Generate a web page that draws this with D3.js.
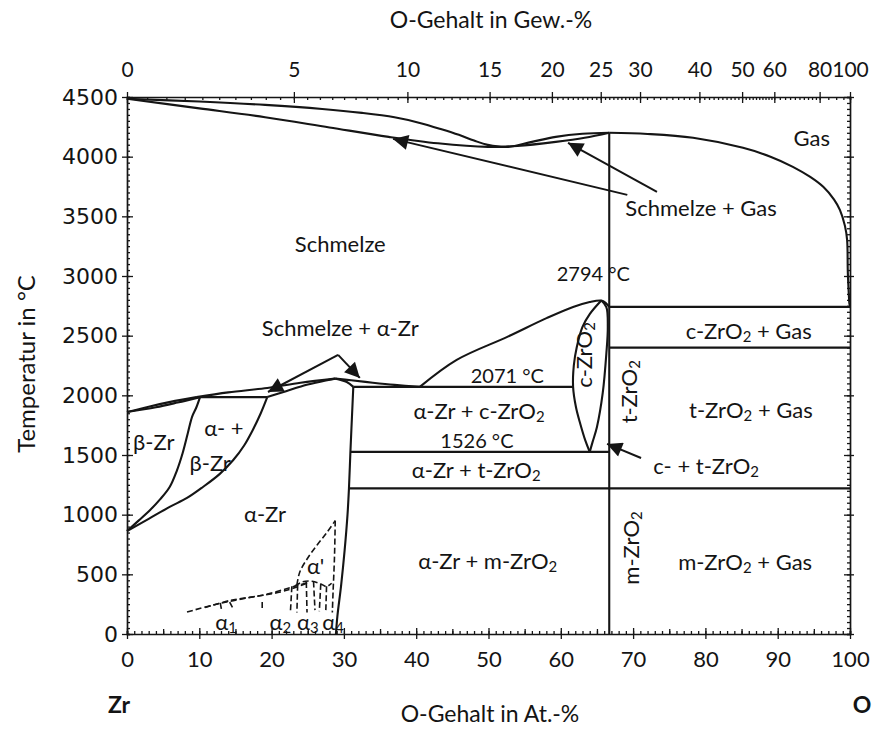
<!DOCTYPE html>
<html><head><meta charset="utf-8">
<script src="https://cdn.jsdelivr.net/npm/d3@7"></script>
<style>
html,body{margin:0;padding:0;background:#fff;}
svg{display:block;}
.lbl{font-family:Lato,"Open Sans",sans-serif;fill:#141414;}
</style></head><body>
<svg id="chart" width="888" height="729"></svg>
<script>
// ---- Axis ticks ----
const atTicks = [0,10,20,30,40,50,60,70,80,90,100];
const tempTicks = [0,500,1000,1500,2000,2500,3000,3500,4000,4500];
const wtTicks = [0,5,10,15,20,25,30,40,50,60,80,100];

// ---- Phase boundaries: [O in At.-%, temperature in °C] ----
const dewLineZr = [[0,4485],[10,4462],[19.1,4434],[27,4400],[32.5,4367],[37,4330],[40.5,4283],[43.5,4230],[45.9,4183],[48,4135],[49.9,4099],[52.7,4082],[56,4124],[59.3,4166],[63,4192],[66.7,4200]];
const boilLineZr = [[0,4485],[10,4405],[19.1,4331],[28,4245],[36.2,4166],[43,4112],[49.9,4082],[54,4090],[59.3,4124],[63.3,4158],[66.7,4200]];
const gasLineO = [[66.7,4200],[72,4190],[78.3,4158],[85.2,4074],[89,4000],[92.1,3915],[94.5,3830],[96.3,3747],[97.8,3640],[98.6,3554],[99.3,3420],[99.6,3303],[99.7,3026],[99.9,2775]];
const zro2Line = [[66.7,4200],[66.7,0]];

const betaLiquidus = [[0,1860],[3,1905],[6,1945],[9.6,1985]];
const betaSolidus = [[0,1860],[4,1900],[7,1940],[10.1,1985]];
const peritectic = [[9.6,1985],[19.4,1985]];
const betaTransus = [[10.1,1985],[9.6,1900],[9.0,1820],[8.4,1680],[7.7,1517],[6.9,1370],[5.9,1232],[4.6,1130],[3.2,1039],[1.6,950],[0,863]];
const alphaTransus = [[19.4,1985],[18.5,1850],[17.4,1710],[16.2,1580],[14.7,1458],[12.8,1340],[10.5,1232],[8.3,1140],[5.9,1065],[3.0,965],[0,863]];
const alphaLiquidus = [[9.6,1985],[14,2025],[19.4,2062],[24,2105],[28.8,2140]];
const alphaSolidus = [[19.4,1985],[22,2035],[25,2090],[27.5,2125],[28.8,2140]];
const liquidusToEutectic = [[28.8,2140],[31,2126],[34,2106],[37,2088],[40.5,2071]];
const solidusToEutectic = [[28.8,2140],[30.4,2112],[31.3,2071]];
const alphaSolvus = [[31.3,2071],[31.1,1800],[30.9,1526],[30.7,1220],[30.5,1000],[30.1,700],[29.6,400],[29.1,150],[28.9,0]];
const zro2Liquidus = [[40.5,2071],[45.6,2297],[52.6,2490],[58.1,2649],[61.7,2741],[64,2782],[65.6,2794],[66.2,2775],[66.7,2741]];
const cubicLeft = [[65.6,2794],[64.0,2680],[63.0,2573],[62.2,2400],[61.8,2250],[61.7,2071],[62.1,1900],[62.7,1760],[63.4,1620],[64.0,1526]];
const cubicRight = [[65.6,2794],[66.3,2740],[66.5,2573],[66.3,2350],[65.8,2020],[65.0,1735],[64.4,1610],[64.0,1526]];

const eutectic = [[31.3,2071],[61.7,2071]];
const eutectoid = [[30.9,1526],[66.7,1526]];
const monoclinic = [[30.7,1220],[100,1220]];
const cubicGas = [[66.7,2741],[100,2741]];
const tetraGas = [[66.7,2400],[100,2400]];

// ---- Metastable / ordered phases (dashed) ----
const dashLow = [[8.3,184],[11.9,243],[16.6,302],[21.2,352],[23.5,394],[24.9,427]];
const dashHigh = [[10.8,222],[14.2,280],[19.1,330],[23.2,400],[25.3,436]];
const alphaPrimeLeft = [[23.5,411],[23.9,520],[25.0,637],[26.3,746],[27.7,855],[28.8,950]];
const alphaPrimeRight = [[28.8,950],[28.7,650],[28.5,350],[28.4,180]];
const orderArch = [[23.2,402],[24.3,437],[25.6,442],[26.8,420],[27.6,398],[28.3,425]];
const orderDashes = [[[22.8,400],[22.6,180]],[[23.6,412],[23.5,180]],[[24.8,436],[24.9,180]],[[25.8,440],[26.0,200]],[[26.8,420],[26.6,190]],[[27.6,400],[27.5,200]],[[12.9,260],[13.1,193]],[[14.2,268],[14.7,210]],[[18.7,268],[18.7,201]]];

// ---- Arrows: [tail, head] ----
const arrows = [
  [[69.2,3680],[36.8,4149]],
  [[73.3,3705],[61.0,4116]],
  [[29.2,2339],[19.5,2028]],
  [[29.2,2339],[32.2,2146]],
  [[71.1,1475],[66.4,1593]]
];

// ---- Region labels (anchor in data units); "_2" marks a subscript ----
const labels = [
  {t:"Gas", at:94.7, T:4166},
  {t:"Schmelze + Gas", at:79.4, T:3579},
  {t:"Schmelze", at:29.5, T:3277},
  {t:"2794 °C", at:64.5, T:3026, s:20},
  {t:"Schmelze + α-Zr", at:29.5, T:2573},
  {t:"c-ZrO_2", at:63.1, T:2339, rot:true},
  {t:"t-ZrO_2", at:69.3, T:2030, rot:true},
  {t:"c-ZrO_2 + Gas", at:86.0, T:2548},
  {t:"2071 °C", at:52.6, T:2171, s:20},
  {t:"t-ZrO_2 + Gas", at:86.3, T:1886},
  {t:"α-Zr + c-ZrO_2", at:48.7, T:1878},
  {t:"1526 °C", at:48.4, T:1626, s:20},
  {t:"α-Zr + t-ZrO_2", at:48.3, T:1383},
  {t:"c- + t-ZrO_2", at:80.1, T:1417},
  {t:"β-Zr", at:3.7, T:1618},
  {t:"α- +", at:13.4, T:1735},
  {t:"β-Zr", at:11.5, T:1442},
  {t:"α-Zr", at:19.1, T:1014},
  {t:"α-Zr + m-ZrO_2", at:49.9, T:620},
  {t:"m-ZrO_2", at:69.6, T:721, rot:true},
  {t:"m-ZrO_2 + Gas", at:85.5, T:612},
  {t:"α'", at:26.1, T:578},
  {t:"α_1", at:13.7, T:109},
  {t:"α_2", at:21.2, T:109},
  {t:"α_3", at:25.0, T:109},
  {t:"α_4", at:28.5, T:109}
];

const svg = d3.select("#chart");
const x = d3.scaleLinear().domain([0,100]).range([127,850]);
const y = d3.scaleLinear().domain([0,4500]).range([634,97]);
// weight-% O to atom-% O (Zr 91.224, O 16.00)
const wtToAt = w => { if (w >= 100) return 100; const o = w/16, z = (100-w)/91.224; return 100*o/(o+z); };

const ink = "#151515";

// ---- Axes ----
function styleAxis(g){ g.selectAll("path,line").attr("stroke", ink).attr("stroke-width",1.3); g.select(".domain").attr("stroke-width",1.7); }

// bottom
svg.append("g").attr("transform",`translate(0,${y(0)})`)
  .call(d3.axisBottom(x).tickValues(d3.range(0,101,1)).tickSize(-3).tickFormat("")).call(styleAxis);
svg.append("g").attr("transform",`translate(0,${y(0)})`)
  .call(d3.axisBottom(x).tickValues(d3.range(5,100,10)).tickSize(-5).tickFormat("")).call(styleAxis).select(".domain").remove();
const gB2 = svg.append("g").attr("transform",`translate(0,${y(0)})`)
  .call(d3.axisBottom(x).tickValues(atTicks).tickSize(5).tickPadding(12).tickFormat(d3.format("d"))).call(styleAxis);
gB2.select(".domain").remove();
gB2.selectAll("line").attr("y1",-6);
gB2.selectAll("text").attr("font-size",22).style("font-family","Lato,sans-serif").attr("fill","#141414");

// top (weight-%)
const wtMinor = [].concat(d3.range(0,30,0.5), d3.range(30,60,1), d3.range(60,80,2), d3.range(80,100,5));
svg.append("g").attr("transform",`translate(0,${y(4500)})`)
  .call(d3.axisTop(x).tickValues(wtMinor.map(wtToAt)).tickSize(-3).tickFormat("")).call(styleAxis);
const gT = svg.append("g").attr("transform",`translate(0,${y(4500)})`)
  .call(d3.axisTop(x).tickValues(wtTicks.map(wtToAt)).tickSize(5).tickPadding(15).tickFormat((d,i)=>wtTicks[i])).call(styleAxis);
gT.select(".domain").remove();
gT.selectAll("line").attr("y1",6);
gT.selectAll("text").attr("font-size",21).style("font-family","Lato,sans-serif").attr("fill","#141414");

// left (temperature)
svg.append("g").attr("transform",`translate(${x(0)},0)`)
  .call(d3.axisLeft(y).tickValues(d3.range(0,4501,50)).tickSize(-3).tickFormat("")).call(styleAxis);
const gL = svg.append("g").attr("transform",`translate(${x(0)},0)`)
  .call(d3.axisLeft(y).tickValues(tempTicks).tickSize(5).tickPadding(4).tickFormat(d3.format("d"))).call(styleAxis);
gL.select(".domain").remove();
gL.selectAll("line").attr("x1",6);
gL.selectAll("text").attr("font-size",22).style("font-family","'DejaVu Sans',Verdana,sans-serif").attr("fill","#141414");

// right
svg.append("g").attr("transform",`translate(${x(100)},0)`)
  .call(d3.axisRight(y).tickValues(d3.range(0,4501,50)).tickSize(-3).tickFormat("")).call(styleAxis);
const gR = svg.append("g").attr("transform",`translate(${x(100)},0)`)
  .call(d3.axisRight(y).tickValues(tempTicks).tickSize(4).tickFormat("")).call(styleAxis);
gR.select(".domain").remove();
gR.selectAll("line").attr("x1",-6);

// ---- Axis titles ----
svg.append("text").attr("class","lbl").attr("x",491).attr("y",28).attr("text-anchor","middle").attr("font-size",23).text("O-Gehalt in Gew.-%");
svg.append("text").attr("class","lbl").attr("x",490).attr("y",722).attr("text-anchor","middle").attr("font-size",23).text("O-Gehalt in At.-%");
svg.append("text").attr("class","lbl").attr("x",119).attr("y",713).attr("text-anchor","middle").attr("font-size",23).attr("font-weight","bold").text("Zr");
svg.append("text").attr("class","lbl").attr("x",862).attr("y",713).attr("text-anchor","middle").attr("font-size",23).attr("font-weight","bold").text("O");
svg.append("text").attr("class","lbl").attr("transform","translate(35,364) rotate(-90)").attr("text-anchor","middle").attr("font-size",24).text("Temperatur in °C");

// ---- Phase boundaries ----
const smooth = d3.line().x(d=>x(d[0])).y(d=>y(d[1])).curve(d3.curveCatmullRom.alpha(0.5));
const straight = d3.line().x(d=>x(d[0])).y(d=>y(d[1]));

const curves = [dewLineZr, boilLineZr, gasLineO, betaLiquidus, betaSolidus, betaTransus, alphaTransus,
  alphaLiquidus, alphaSolidus, liquidusToEutectic, solidusToEutectic, alphaSolvus, zro2Liquidus, cubicLeft, cubicRight];
const straights = [zro2Line, peritectic, eutectic, eutectoid, monoclinic, cubicGas, tetraGas];

const gLines = svg.append("g").attr("fill","none").attr("stroke",ink).attr("stroke-width",2.1).attr("stroke-linejoin","round");
gLines.selectAll("path.c").data(curves).join("path").attr("class","c").attr("d",smooth);
gLines.selectAll("path.s").data(straights).join("path").attr("class","s").attr("d",straight);
// gas curve meets the right axis
gLines.append("path").attr("d", straight([gasLineO[gasLineO.length-1],[100,2741]]));

const gDash = svg.append("g").attr("fill","none").attr("stroke",ink).attr("stroke-width",1.6).attr("stroke-dasharray","6,3");
gDash.selectAll("path.c").data([dashLow, dashHigh, alphaPrimeLeft, alphaPrimeRight, orderArch]).join("path").attr("class","c").attr("d",smooth);
gDash.selectAll("path.s").data(orderDashes).join("path").attr("class","s").attr("d",straight);

// ---- Arrows ----
const defs = svg.append("defs");
defs.append("marker").attr("id","head").attr("viewBox","0 0 10 10").attr("refX",10).attr("refY",5)
  .attr("markerWidth",17).attr("markerHeight",15).attr("markerUnits","userSpaceOnUse").attr("orient","auto")
  .append("path").attr("d","M0,0L10,5L0,10Z").attr("fill",ink);
svg.append("g").selectAll("path").data(arrows).join("path")
  .attr("d",straight).attr("stroke",ink).attr("stroke-width",2).attr("fill","none").attr("marker-end","url(#head)");

// ---- Labels ----
function rich(sel, str, size){
  let back = 0;
  str.split(/(_\d)/).filter(p=>p.length).forEach(p=>{
    if (p[0]==="_"){
      sel.append("tspan").attr("font-size",size*0.68).attr("dy",size*0.28).text(p.slice(1));
      back = -size*0.28;
    } else {
      const t = sel.append("tspan").text(p);
      if (back) { t.attr("dy", back); back = 0; }
    }
  });
}
labels.forEach(l=>{
  const s = l.s || 22;
  const t = svg.append("text").attr("class","lbl").attr("font-size",s).attr("text-anchor","middle")
    .attr("dominant-baseline","central");
  if (l.rot) t.attr("transform",`translate(${x(l.at)},${y(l.T)}) rotate(-90)`);
  else t.attr("x",x(l.at)).attr("y",y(l.T));
  rich(t, l.t, s);
});
</script>
</body></html>
